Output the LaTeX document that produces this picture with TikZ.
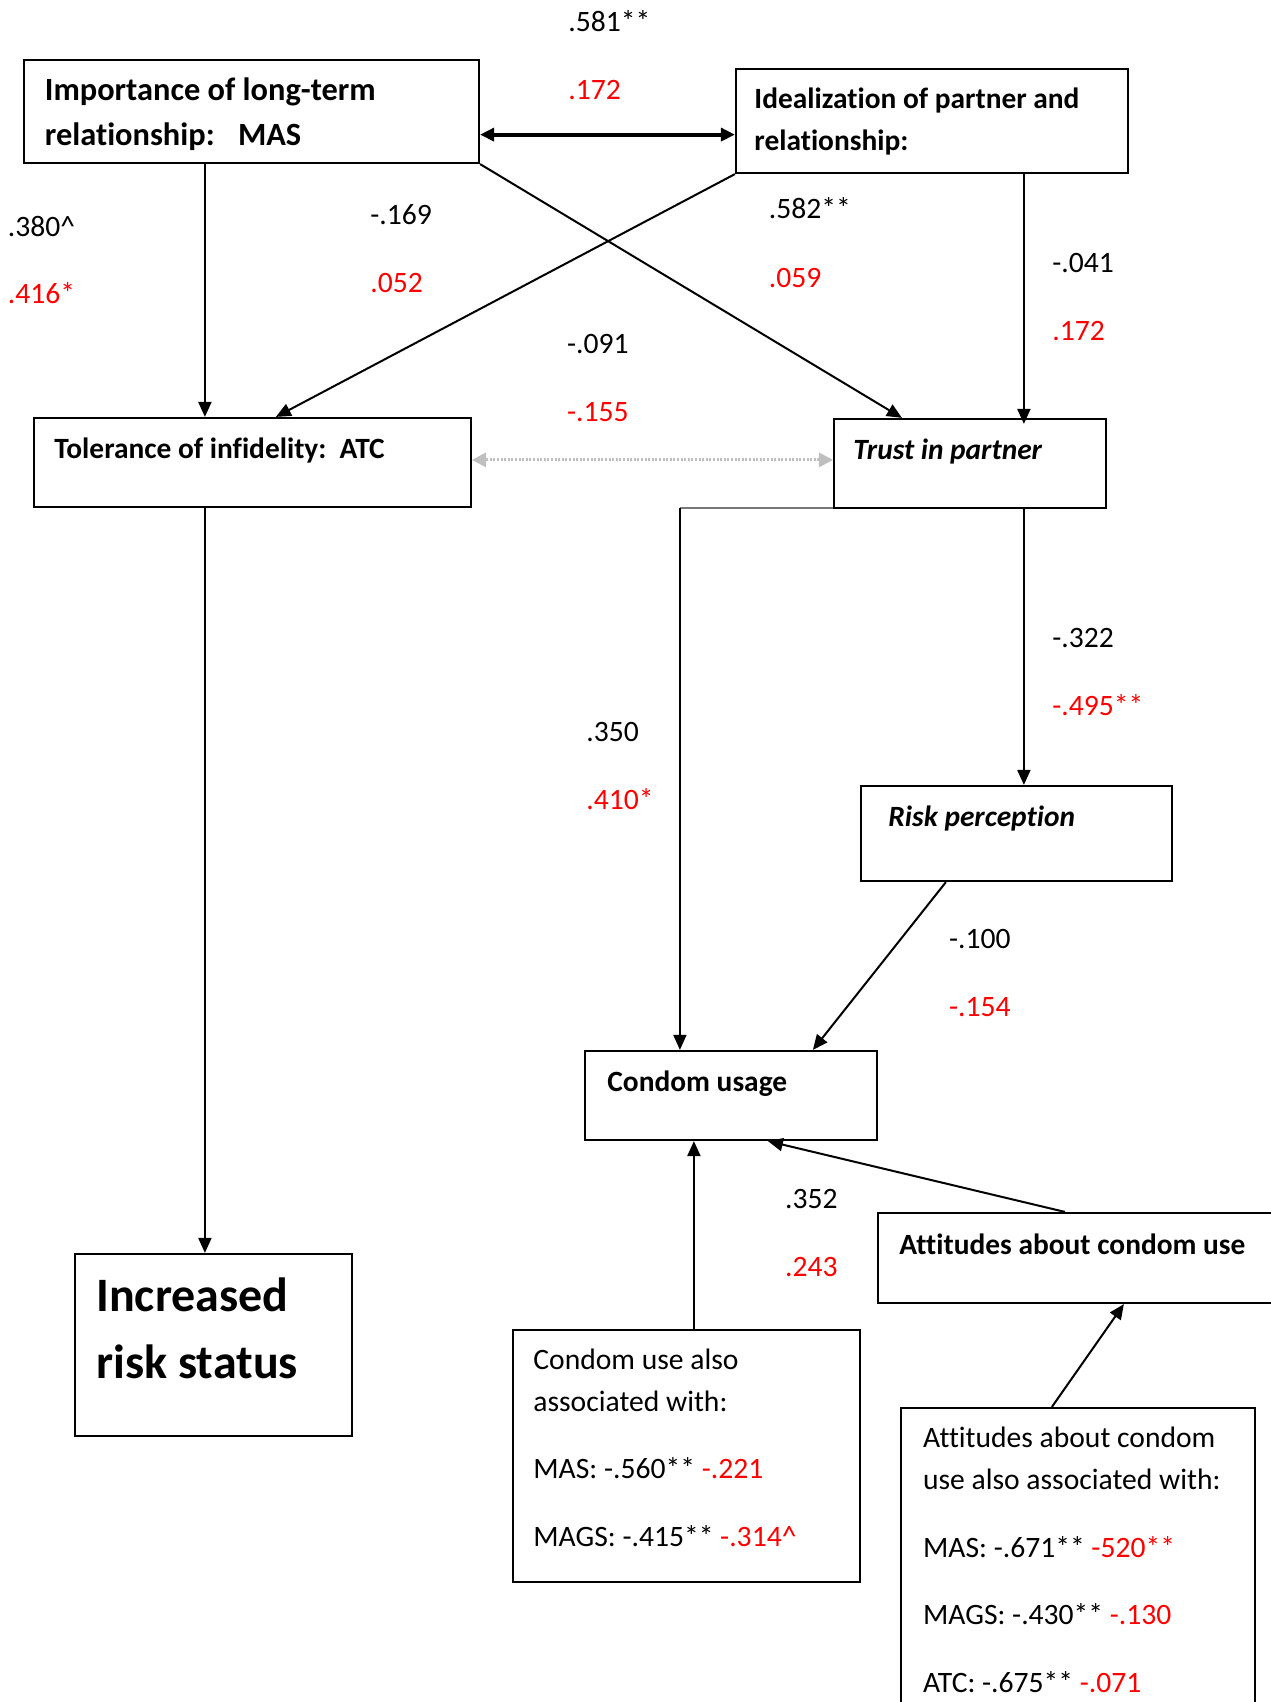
\documentclass[tikz,border=0pt]{standalone}
\usepackage{fontspec}
\setmainfont{Carlito}[Ligatures={NoCommon,NoContextual}]
\usetikzlibrary{arrows.meta,calc,fit}
\definecolor{lblred}{RGB}{255,0,0}
\definecolor{dotgray}{RGB}{191,191,191}
\definecolor{elbowgray}{RGB}{120,120,120}
\begin{document}
\begin{tikzpicture}[x=0.5pt,y=-0.5pt,
  box/.style={draw, line width=1.1pt, inner sep=0pt},
  txt/.style={anchor=base west, inner sep=0pt, font=\fontsize{14.8}{18}\selectfont},
  hd/.style={txt, font=\fontsize{14.7}{18}\selectfont\bfseries},
  hdA/.style={txt, font=\fontsize{16.2}{19}\selectfont\bfseries},
  hdi/.style={txt, font=\fontsize{14.7}{18}\selectfont\bfseries\itshape},
  big/.style={txt, font=\fontsize{24}{28}\selectfont\bfseries},
  coef/.style={txt},
  redcoef/.style={txt, text=lblred},
  arr/.style={line width=1pt, -{Triangle[length=7.5pt,width=6.5pt]}},
  both/.style={line width=2pt, {Triangle[length=7pt,width=6.5pt]}-{Triangle[length=7pt,width=6.5pt]}},
  dotlink/.style={dotgray, line width=1.5pt, dash pattern=on 1pt off 0.8pt,
    {Triangle[length=7pt,width=7.5pt,fill=dotgray,line width=0pt]}-{Triangle[length=7pt,width=7.5pt,fill=dotgray,line width=0pt]}},
  ]
\useasboundingbox (0,0) rectangle (1270,1702);

% ---- boxes ----
\node[box, fit={(24,60)(479,163)}]    (A) {};
\node[box, fit={(736,69)(1128,173)}]  (B) {};
\node[box, fit={(34,418)(471,507)}]   (C) {};
\node[box, fit={(834,419)(1106,508)}] (D) {};
\node[box, fit={(861,786)(1172,881)}] (E) {};
\node[box, fit={(585,1051)(877,1140)}] (F) {};
\node[box, fit={(878,1213)(1290,1303)}] (G) {};
\node[box, fit={(513,1330)(860,1582)}] (H) {};
\node[box, fit={(901,1408)(1255,1730)}] (I) {};
\node[box, fit={(75,1254)(352,1436)}] (J) {};

% ---- box texts ----
\node[hdA] (tA1) at (44.5,101) {Importance of long-term};
\node[hdA] (tA2) at (44.5,146) {relationship:\hspace{0.72em}MAS};
\node[hd] (tB1) at (754,109) {Idealization of partner and};
\node[hd] (tB2) at (754,150) {relationship:};
\node[hd] (tC) at (54,458) {Tolerance of infidelity:\hspace{0.45em}ATC};
\node[hdi] (tD) at (853,459) {Trust in partner};
\node[hdi] (tE) at (888,826) {Risk perception};
\node[hd] (tF) at (607,1091) {Condom usage};
\node[hd] (tG) at (899,1254) {Attitudes about condom use};
\node[txt] (tH1) at (533,1369) {Condom use also};
\node[txt] (tH2) at (533,1411) {associated with:};
\node[txt] (tH3) at (533,1478) {MAS: -.560** \textcolor{lblred}{-.221}};
\node[txt] (tH4) at (533,1546) {MAGS: -.415** \textcolor{lblred}{-.314\^{}}};
\node[txt] (tI1) at (922.7,1447) {Attitudes about condom};
\node[txt] (tI2) at (922.7,1489) {use also associated with:};
\node[txt] (tI3) at (922.7,1557) {MAS: -.671** \textcolor{lblred}{-520**}};
\node[txt] (tI4) at (922.7,1624) {MAGS: -.430** \textcolor{lblred}{-.130}};
\node[txt] (tI5) at (922.7,1692) {ATC: -.675** \textcolor{lblred}{-.071}};
\node[big] (tJ1) at (96,1311) {Increased};
\node[big] (tJ2) at (96,1378) {risk status};

% ---- path coefficients ----
\node[coef]    (c1a) at (568,31.7) {.581**};
\node[redcoef] (c1b) at (568,100) {.172};
\node[coef]    (c2a) at (7.6,236) {.380\^{}};
\node[redcoef] (c2b) at (7.6,303) {.416*};
\node[coef]    (c3a) at (370,224) {-.169};
\node[redcoef] (c3b) at (370,292) {.052};
\node[coef]    (c4a) at (768.5,218) {.582**};
\node[redcoef] (c4b) at (768.5,287) {.059};
\node[coef]    (c5a) at (1052,272) {-.041};
\node[redcoef] (c5b) at (1052,340) {.172};
\node[coef]    (c6a) at (566.6,353) {-.091};
\node[redcoef] (c6b) at (566.6,421) {-.155};
\node[coef]    (c7a) at (1052,647) {-.322};
\node[redcoef] (c7b) at (1052,715.6) {-.495**};
\node[coef]    (c8a) at (586,741.6) {.350};
\node[redcoef] (c8b) at (586,809) {.410*};
\node[coef]    (c9a) at (948.7,948) {-.100};
\node[redcoef] (c9b) at (948.7,1016) {-.154};
\node[coef]    (c10a) at (784.8,1208) {.352};
\node[redcoef] (c10b) at (784.8,1276) {.243};

% ---- connectors ----
\draw[both] ($(A.north east)+(0,75.7)$) -- ($(B.north west)+(0,66.7)$);
\draw[arr] ($(A.south west)+(182,0)$) -- ($(C.north west)+(172,0)$);
\draw[arr] (B.south west) -- ($(C.north west)+(243,0)$);
\draw[arr] (A.south east) -- ($(D.north west)+(69,0)$);
\draw[arr] ($(B.south west)+(289,0)$) -- ($(D.north west)+(191,6)$);
\draw[dotlink] ($(C.north east)+(0,43)$) -- ($(D.north west)+(0,42)$);

% elbow from the trust box down to condom usage
\coordinate (Fin) at ($(F.north west)+(96,0)$);
\coordinate (Dcorner) at ($(D.south west)+(0,-1)$);
\coordinate (bend) at (Dcorner -| Fin);
\draw[elbowgray, line width=0.9pt] (Dcorner) -- (bend);
\draw[arr, line width=0.8pt] (bend) -- (Fin);

\draw[arr] ($(D.south west)+(191,0)$) -- ($(E.north west)+(164,0)$);
\draw[arr] ($(E.south west)+(86,0)$) -- ($(F.north west)+(229,0)$);
\draw[arr] ($(C.south west)+(172,0)$) -- ($(J.north west)+(131,0)$);
\draw[arr] ($(H.north west)+(182,0)$) -- ($(F.south west)+(110,0)$);
\draw[arr] ($(G.north west)+(188,0)$) -- ($(F.south west)+(184,0)$);
\draw[arr] ($(I.north west)+(152,0)$) -- ($(G.south west)+(247,0)$);
\end{tikzpicture}
\end{document}
